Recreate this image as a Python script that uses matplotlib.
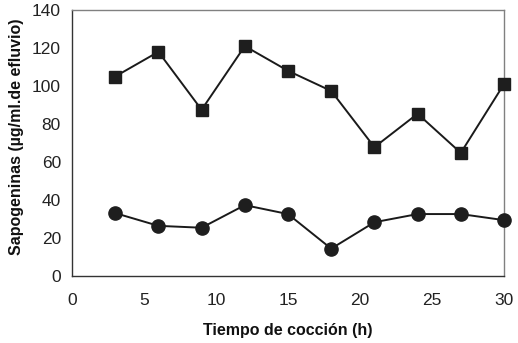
import matplotlib
matplotlib.use("Agg")
import matplotlib.pyplot as plt

hours = [3, 6, 9, 12, 15, 18, 21, 24, 27, 30]
series_square = [105, 118, 87.5, 121, 108, 97.4, 67.8, 85.4, 64.8, 101]
series_circle = [33.1, 26.4, 25.4, 37.3, 32.6, 14.4, 28.3, 32.6, 32.6, 29.4]
xticks = [0, 5, 10, 15, 20, 25, 30]
yticks = [0, 20, 40, 60, 80, 100, 120, 140]

plt.rcParams['font.family'] = ['Liberation Sans', 'DejaVu Sans']

fig = plt.figure(figsize=(5.18, 3.43), dpi=100)
ax = fig.add_axes([72/518, 1-276/343, (504-72)/518, (276-10)/343])

ax.plot(hours, series_square, color='#1a1a1a', lw=1.4, marker='s', ms=8.5,
        mfc='#1e1e1e', mec='#1e1e1e', clip_on=False, zorder=3)
ax.plot(hours, series_circle, color='#1a1a1a', lw=1.4, marker='o', ms=9.5,
        mfc='#1e1e1e', mec='#1e1e1e', clip_on=False, zorder=3)

ax.set_xlim(0, 30)
ax.set_ylim(0, 140)
ax.set_xticks(xticks)
ax.set_yticks(yticks)
ax.tick_params(length=0, labelsize=12.5, colors='#222222', pad=8)
ax.tick_params(axis='x', pad=12)
for s in ax.spines.values():
    s.set_color('#808080')
    s.set_linewidth(1.0)
ax.spines['left'].set_color('#333333')
ax.spines['bottom'].set_color('#333333')

ax.set_xlabel('Tiempo de cocción (h)', fontsize=11.5, fontweight='bold',
              color='#111111', labelpad=11)
ax.set_ylabel('Sapogeninas (µg/ml.de efluvio)', fontsize=11.5, fontweight='bold',
              color='#111111')
ax.yaxis.set_label_coords(-0.11, 0.525)

fig.savefig('out.png', dpi=100)
